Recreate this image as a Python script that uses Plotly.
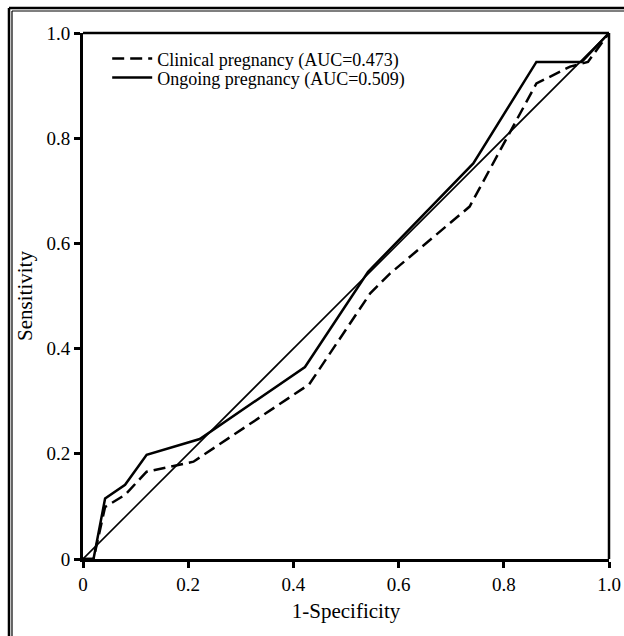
import plotly.graph_objects as go

# ROC data
fpr_clinical = [0, 0.02, 0.042, 0.08, 0.121, 0.21, 0.43, 0.546, 0.584, 0.735, 0.862, 0.926, 0.96, 1.0]
tpr_clinical = [0, 0, 0.099, 0.122, 0.166, 0.185, 0.332, 0.505, 0.543, 0.67, 0.904, 0.936, 0.945, 1.0]

fpr_ongoing = [0, 0.02, 0.042, 0.08, 0.121, 0.222, 0.422, 0.542, 0.742, 0.862, 0.948, 1.0]
tpr_ongoing = [0, 0, 0.115, 0.141, 0.198, 0.228, 0.365, 0.546, 0.752, 0.945, 0.945, 1.0]

ref_x = [0, 1]
ref_y = [0, 1]

tick_vals = [0, 0.2, 0.4, 0.6, 0.8, 1.0]
tick_text = ["0", "0.2", "0.4", "0.6", "0.8", "1.0"]

FONT = "Liberation Serif"

fig = go.Figure()
fig.add_trace(go.Scatter(x=ref_x, y=ref_y, mode="lines", showlegend=False,
                         line=dict(color="black", width=1.6)))
fig.add_trace(go.Scatter(x=fpr_clinical, y=tpr_clinical, mode="lines",
                         name="Clinical pregnancy (AUC=0.473)", legend="legend",
                         line=dict(color="black", width=2.5, dash="12px,6px")))
fig.add_trace(go.Scatter(x=fpr_ongoing, y=tpr_ongoing, mode="lines",
                         name="Ongoing pregnancy (AUC=0.509)", legend="legend2",
                         line=dict(color="black", width=2.5)))

axis_common = dict(range=[0, 1], tickvals=tick_vals, ticktext=tick_text,
                   showgrid=False, zeroline=False, showline=True,
                   linecolor="black", linewidth=3, ticks="outside",
                   ticklen=6, tickwidth=2.5, tickcolor="black",
                   tickfont=dict(family=FONT, size=19, color="black"))

fig.update_xaxes(**axis_common,
                 title=dict(text="1-Specificity", font=dict(family=FONT, size=21, color="black"),
                            standoff=10))
fig.update_yaxes(**axis_common,
                 title=dict(text="Sensitivity", font=dict(family=FONT, size=21, color="black"),
                            standoff=9))

shapes = [
    # top and right frame of the plot area
    dict(type="line", xref="paper", yref="paper", x0=0, x1=1, y0=1, y1=1,
         line=dict(color="black", width=2.5)),
    dict(type="line", xref="paper", yref="paper", x0=1, x1=1, y0=0, y1=1,
         line=dict(color="black", width=2.5)),
    # outer double border (cropped at right & bottom)
    dict(type="line", xref="paper", yref="paper", x0=-0.1407, x1=-0.1407, y0=-0.2, y1=1.0475,
         line=dict(color="black", width=2.5)),
    dict(type="line", xref="paper", yref="paper", x0=-0.1407, x1=1.05, y0=1.0475, y1=1.0475,
         line=dict(color="black", width=2.5)),
    dict(type="line", xref="paper", yref="paper", x0=-0.1350, x1=-0.1350, y0=-0.2, y1=1.0418,
         line=dict(color="black", width=1.2)),
    dict(type="line", xref="paper", yref="paper", x0=-0.1350, x1=1.05, y0=1.0418, y1=1.0418,
         line=dict(color="black", width=1.2)),
]

legend_style = dict(xanchor="left", yanchor="top", bgcolor="rgba(0,0,0,0)",
                    font=dict(family=FONT, size=18, color="black"), itemwidth=40)

fig.update_layout(
    width=624, height=636,
    margin=dict(l=83, r=15, t=33, b=77, autoexpand=False),
    paper_bgcolor="white", plot_bgcolor="white",
    font=dict(family=FONT, color="black"),
    shapes=shapes,
    legend=dict(x=0.046, y=0.986, **legend_style),
    legend2=dict(x=0.046, y=0.950, **legend_style),
)

# remove the browser's default 8px body margin so the figure fills the window exactly
fig.write_html("out.html", config={"displayModeBar": False},
               post_script="document.body.style.margin='0px';")
